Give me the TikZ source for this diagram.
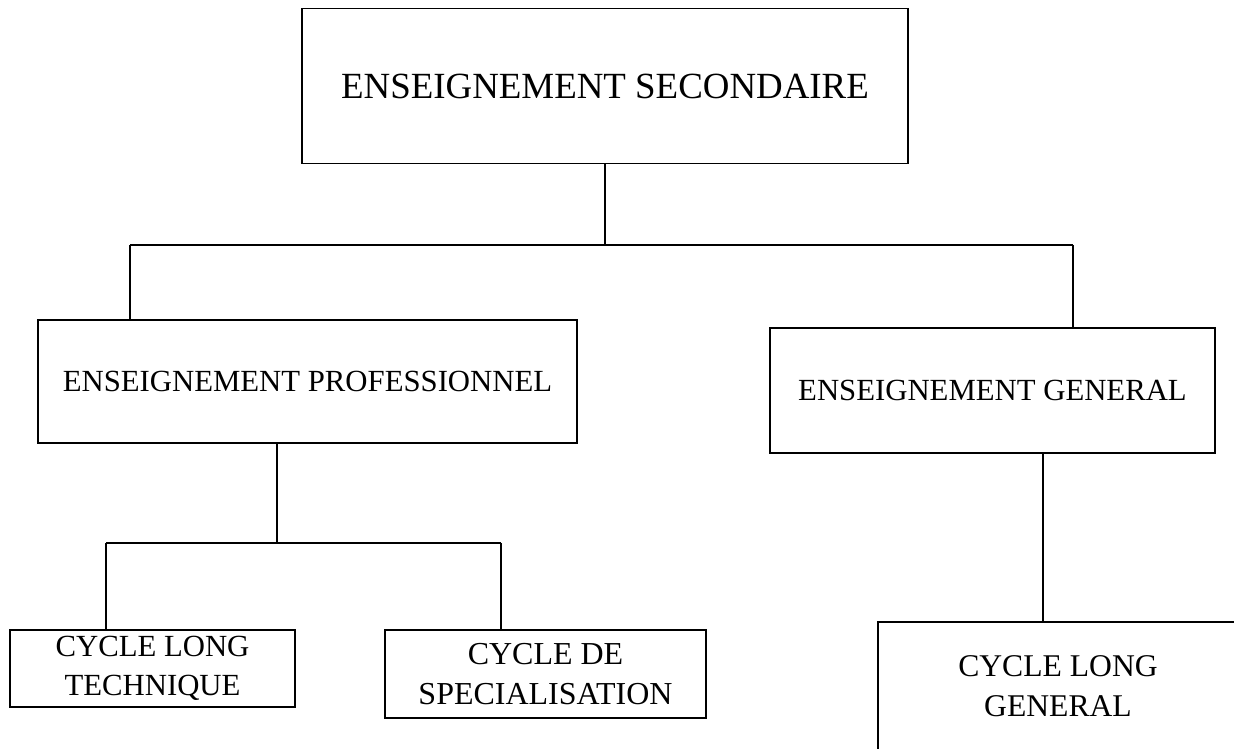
\documentclass[tikz,border=0pt]{standalone}
\usepackage{fontspec}
\setmainfont{Liberation Serif}
\begin{document}
\begin{tikzpicture}[x=0.02cm,y=-0.02cm,line width=1.1pt,
  boite/.style={draw,rectangle,inner sep=0pt,align=center},
  grand/.style={font=\fontsize{21}{25}\selectfont},
  moyen/.style={font=\fontsize{17.5}{21}\selectfont},
  petit/.style={font=\fontsize{17.5}{22.5}\selectfont}]
\useasboundingbox (0,0) rectangle (1234,749);
\clip (0,0) rectangle (1234,749);

\node[boite,grand,minimum width=12.12cm,minimum height=3.10cm] (sec) at (605,86) {ENSEIGNEMENT SECONDAIRE};
\node[boite,moyen,minimum width=10.78cm,minimum height=2.46cm] (prof) at (307.5,381.5) {ENSEIGNEMENT PROFESSIONNEL};
\node[boite,moyen,minimum width=8.90cm,minimum height=2.50cm] (gen) at (992.5,390.5) {ENSEIGNEMENT GENERAL};
\node[boite,petit,minimum width=5.70cm,minimum height=1.54cm] (clt) at (152.5,668.5) {CYCLE LONG\\TECHNIQUE};
\node[boite,petit,font=\fontsize{18.2}{22.5}\selectfont,minimum width=6.42cm,minimum height=1.76cm] (spec) at (545.5,674) {CYCLE DE\\SPECIALISATION};
\node[boite,petit,font=\fontsize{18}{22.5}\selectfont,minimum width=7.20cm,minimum height=2.56cm] (clg) at (1058,686) {CYCLE LONG\\GENERAL};

% premier niveau
\coordinate (a0) at (605,245);
\coordinate (a1) at (130,245);
\coordinate (a2) at (1073,245);
\draw (sec.south) -- (a0);
\draw (a1) -- (a2);
\draw (a1) -- (a1 |- prof.north);
\draw (a2) -- (a2 |- gen.north);

% second niveau
\coordinate (b0) at (277,543);
\coordinate (b1) at (106,543);
\coordinate (b2) at (501,543);
\draw (b0 |- prof.south) -- (b0);
\draw (b1) -- (b2);
\draw (b1) -- (b1 |- clt.north);
\draw (b2) -- (b2 |- spec.north);

\coordinate (c0) at (1043,540);
\draw (c0 |- gen.south) -- (c0 |- clg.north);
\end{tikzpicture}
\end{document}
